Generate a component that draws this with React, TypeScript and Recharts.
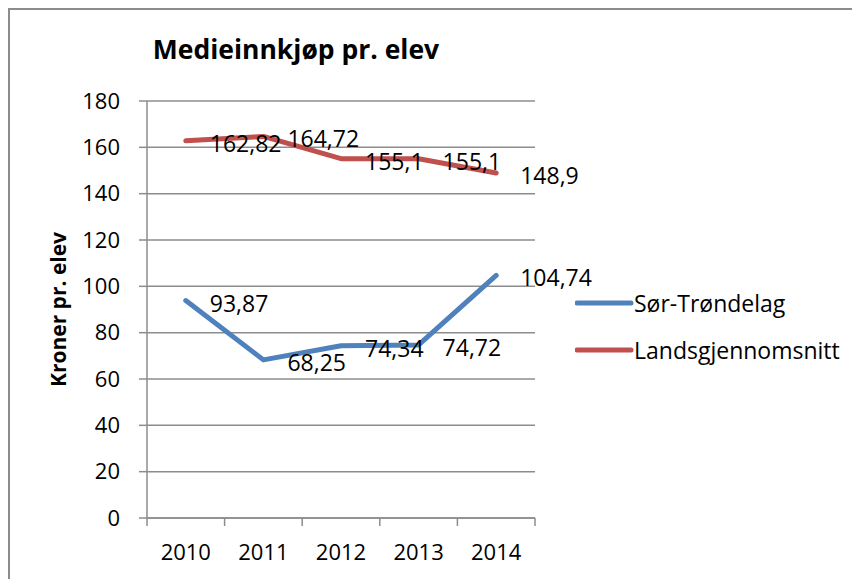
import React from 'react';
import { LineChart, Line, XAxis, YAxis, CartesianGrid, Legend, LabelList } from 'recharts';

const years = ['2010', '2011', '2012', '2013', '2014'];
const sorTrondelag = [93.87, 68.25, 74.34, 74.72, 104.74];
const landsgjennomsnitt = [162.82, 164.72, 155.1, 155.1, 148.9];
const yTicks = [0, 20, 40, 60, 80, 100, 120, 140, 160, 180];

const seriesNames = ['Sør-Trøndelag', 'Landsgjennomsnitt'];
const seriesColors = ['#4F81BD', '#C0504D'];

const data = years.map((y, i) => ({ year: y, sor: sorTrondelag[i], lands: landsgjennomsnitt[i] }));

const FONT = '"Open Sans", sans-serif';
const GRID = '#8c8c8c';

const fmt = (v: number) => String(v).replace('.', ',');

const XTick = (props: any) => {
  const { x, y, payload, index, visibleTicksCount } = props;
  const half = payload && typeof payload.offset === 'number' && payload.offset > 0 ? payload.offset : 38.8;
  const isLast = index === (visibleTicksCount ?? 5) - 1;
  return (
    <g>
      <line x1={x - half} y1={y} x2={x - half} y2={y + 8} stroke={GRID} strokeWidth={1.5} />
      {isLast && <line x1={x + half} y1={y} x2={x + half} y2={y + 8} stroke={GRID} strokeWidth={1.5} />}
      <text x={x} y={y + 42} textAnchor="middle" fontFamily={FONT} fontSize={22} fill="#000">
        {payload.value}
      </text>
    </g>
  );
};

const DataLabel = (props: any) => {
  const { x, y, value } = props;
  return (
    <text x={x + 24} y={y + 2} dominantBaseline="central" fontFamily={FONT} fontSize={23} fill="#000">
      {fmt(value)}
    </text>
  );
};

const YLabel = (props: any) => {
  const vb = props.viewBox || { x: 0, y: 91, width: 137, height: 417 };
  const cx = vb.x + 48;
  const cy = vb.y + vb.height / 2;
  return (
    <text
      x={cx}
      y={cy}
      transform={`rotate(-90 ${cx} ${cy})`}
      textAnchor="middle"
      dominantBaseline="central"
      fontFamily={FONT}
      fontWeight={700}
      fontSize={21}
      fill="#000"
    >
      Kroner pr. elev
    </text>
  );
};

const LegendContent = () => (
  <div style={{ fontFamily: FONT, fontSize: 23, color: '#000' }}>
    {seriesNames.map((n, i) => (
      <div key={n} style={{ height: 47, display: 'flex', alignItems: 'center' }}>
        <svg width={64} height={10} style={{ marginLeft: 10, display: 'block', flexShrink: 0 }}>
          <line x1={2} y1={5} x2={56} y2={5} stroke={seriesColors[i]} strokeWidth={5} strokeLinecap="round" />
        </svg>
        <span style={{ marginLeft: -5, whiteSpace: 'nowrap', flexShrink: 0 }}>{n}</span>
      </div>
    ))}
  </div>
);

export default function App() {
  return (
    <div
      style={{
        position: 'fixed',
        left: 8,
        top: 8,
        width: 844,
        height: 571,
        borderLeft: `2px solid ${GRID}`,
        borderTop: `2px solid ${GRID}`,
        boxSizing: 'border-box',
        background: '#fff',
      }}
    >
      <div
        style={{
          position: 'absolute',
          left: 0,
          width: 572,
          top: 26,
          textAlign: 'center',
          fontFamily: FONT,
          fontWeight: 700,
          fontSize: 26.5,
          lineHeight: '26px',
          color: '#000',
          whiteSpace: 'nowrap',
        }}
      >
        Medieinnkjøp pr. elev
      </div>
      <LineChart width={842} height={569} data={data} margin={{ top: 91, right: 57, left: 0, bottom: 31 }}>
        <CartesianGrid vertical={false} stroke={GRID} strokeWidth={1.5} />
        <XAxis
          dataKey="year"
          scale="band"
          height={30}
          axisLine={{ stroke: GRID, strokeWidth: 1.5 }}
          tickLine={false}
          tickSize={0}
          tickMargin={0}
          interval={0}
          tick={<XTick />}
        />
        <YAxis
          width={137}
          domain={[0, 180]}
          ticks={yTicks}
          interval={0}
          tickSize={8}
          tickMargin={19}
          axisLine={{ stroke: GRID, strokeWidth: 1.5 }}
          tickLine={{ stroke: GRID, strokeWidth: 1.5 }}
          tick={{ fontFamily: FONT, fontSize: 22, fill: '#000' }}
          label={<YLabel />}
        />
        <Legend
          layout="vertical"
          align="right"
          verticalAlign="top"
          width={260}
          wrapperStyle={{ top: 269, left: 555 }}
          content={<LegendContent />}
        />
        <Line
          name={seriesNames[0]}
          dataKey="sor"
          stroke={seriesColors[0]}
          strokeWidth={5}
          dot={false}
          activeDot={false}
          strokeLinecap="round"
          strokeLinejoin="round"
          isAnimationActive={false}
        >
          <LabelList dataKey="sor" content={<DataLabel />} />
        </Line>
        <Line
          name={seriesNames[1]}
          dataKey="lands"
          stroke={seriesColors[1]}
          strokeWidth={5}
          dot={false}
          activeDot={false}
          strokeLinecap="round"
          strokeLinejoin="round"
          isAnimationActive={false}
        >
          <LabelList dataKey="lands" content={<DataLabel />} />
        </Line>
      </LineChart>
    </div>
  );
}
